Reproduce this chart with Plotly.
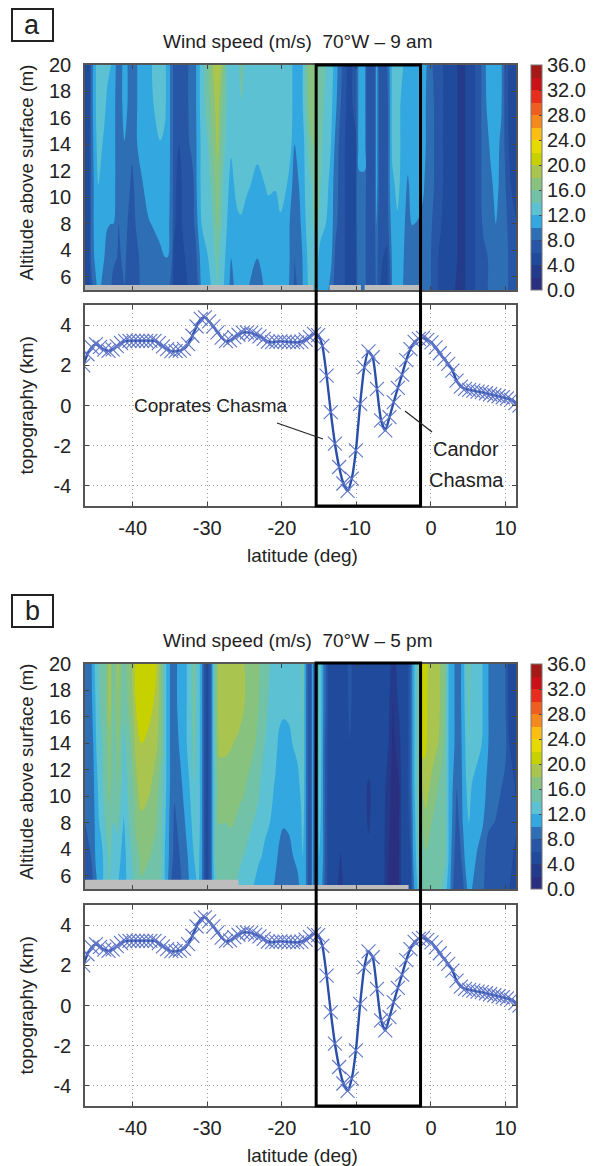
import plotly.graph_objects as go

W, H = 601, 1166

band_colors = ["#2a2f80", "#1f4493", "#214d9f", "#2b5aa9", "#2f75b9", "#34b3e8", "#63c4d0", "#72c2a3", "#88c27d",
               "#a8c552", "#c4d000", "#e3dc00", "#fdc80f", "#f7941d", "#f26a1f", "#e9411f", "#e30a17", "#a41a17"]
colorbar_ticks = [0, 4, 8, 12, 16, 20, 24, 28, 32, 36]

# altitude rows of the wind grids (position on the plotted axis)
altitude_rows = [20, 17, 14, 11, 8, 5.5, 3]
alt_tick_pos = [20, 18, 16, 14, 12, 10, 8, 6, 4]
alt_tick_text = ["20", "18", "16", "14", "12", "10", "8", "4", "6"]

lat_ticks = [-40, -30, -20, -10, 0, 10]
lat_tick_text = ["-40", "-30", "-20", "-10", "0", "10"]
topo_ticks = [-4, -2, 0, 2, 4]
topo_tick_text = ["-4", "-2", "0", "2", "4"]

wind_a_lat = [-46.5, -45.9, -45.5, -45.1, -44.6, -43.8, -43.4, -42.9, -42.6, -42.1, -41.9, -41.4, -41.1, -40.7, -40.1,
              -39.4, -38.7, -37.9, -37.2, -36.3, -35.7, -35.3, -34.7, -34.5, -33.8, -33.0, -32.1, -31.6, -31.3, -30.7,
              -29.9, -29.3, -28.6, -28.25, -27.6, -27.1, -26.8, -26.2, -25.8, -25.5, -24.7, -23.3, -22.3, -21.8, -20.9,
              -20.2, -19.3, -18.6, -18.3, -17.5, -17.2, -16.8, -16.2, -15.4, -14.8, -14.1, -13.4, -12.8, -12.1, -11.0,
              -10.1, -9.9, -9.6, -8.9, -8.6, -7.6, -7.3, -7.0, -6.4, -5.9, -5.4, -5.2, -4.5, -3.7, -3.1, -2.5, -1.6,
              -1.0, -0.4, 0.4, 1.0, 2.2, 4.2, 5.4, 6.4, 7.1, 7.6, 8.0, 8.7, 9.4, 10.0, 10.7, 11.5]
wind_a_cols = [
    [5,5,5,5,5,5,5],[5,5,5,5,5,5,5],[9,9,9,9,9,9,7],[11.5,11.5,11,10.5,10.5,10.2,9],[13,13,13,12,11,11,10.5],
    [13,12.5,11.5,11,11,10,9],[12.5,11.5,11,11,10.2,9,9],[12,11.5,11,11,10,9,8],[11,11,11,11,10,8.5,7],
    [9.5,9,9,9,9,8,7],[9,9,9,9,8,7,7],[10,10,9.5,9,9,8.5,7],[11,11,9.9,9,9,9,7.8],[10,10,9.5,9,8,7,7],
    [9,9,8.6,7.4,7,7,7],[10,10,10,9,8.5,7.5,7],[11,11,11,9.9,9,9,9],[11,11,11,11,9.8,9,9],[12.5,12,11.5,11,10.2,9,9],
    [13,13,11.9,11,11,9.4,9],[12.5,12.5,11.5,11,11,10,9],[11,11,11,10.8,10.5,10,8.5],[9,9,9,9,9,8,7],
    [7,7,7,7,6.5,5.5,5],[7,7,6,5,5,5,5],[7,7,7,7,7,6,5],[9,9,8.5,7,7,7,7],[9.5,9.5,9,8.8,8.5,7,7],
    [11,11,11,11,10,9,7.5],[13,13,12.5,12.5,12.2,11,11],[15.5,15,14,13,13,12,11],[18,17,16,15,14,13.5,12.5],
    [19.5,19,18.6,17,16.3,14.5,14],[19,17,16,15,14.5,13.5,13],[15,14.5,14,13,13,12,11.5],[13,13,13,12,11,11,10.5],
    [13,13,12.5,11,11,10.1,8],[13,13,13,12.5,11.2,11,11],[13.5,13,13,13,11.6,11,11],[15.5,13.8,13,13,11.7,11,11],
    [13,13,13,12.4,11,11,10.3],[13,13,12.6,11.4,11,10.1,8],[13,13,13,12,11,11,10.2],[13,13,13,12.4,11,11,11],
    [13,13,13,12.2,11,11,11],[13,13,13,13,11.6,11,11],[13,13,13,12,11,11,10.5],[12,12,11.8,10,9,9,9],
    [11,11,10,8,8,8,7],[11,11,11,10.8,9.9,9,9],[12,12,11,11,11,10.2,10],[15,14.5,13,12.5,12,11.5,11.5],
    [17.5,17,15.5,13.5,13,13,12.5],[17,17,16.5,15.5,15,13,12.5],[15,15,14.5,14,13,11,11],[14,13.5,13,13,12,11,11],
    [13,12.5,12,11,11,10.5,9],[11,10.5,9.5,9,8.5,7.5,7],[8.5,8,7,7,7,7,7],[5,5,5,5,5,5,5],
    [7,7,5.5,5.5,5.5,5.5,5.5],[9,9,9,9,9,8,8],[11,11,11,9.5,9,9,9],[11,11,11,9.5,9,9,9],[7,7,7,7,7,7,7],
    [7,7,7,7,7,7,7],[11,11,11,11,10.1,9,8.5],[8,8,8,8,7,7,6.5],[7,7,7,7,7,6,5],[8,7,7,7,7,5.5,5.5],
    [11,11,11,11,10,9,8],[12.5,12.5,12.5,11.5,11,10.5,10.2],[13,13,13,12.6,11.7,11,11],[12,11,11,11,10.5,10.1,9.9],
    [11,11,11,9.7,9,9,9],[11,11,11,11,10.1,9,9],[11,11,11,11,9.8,9,9],[11,11,11,10.2,9.5,9,9],[9.5,9,9,9,9,9,9],
    [7.5,8,8,8,7.5,7,7],[7,7,7,7,6.5,6,6],[5,5,5,5,5,5,4.5],[3.5,3.5,3.5,3.5,3.5,3.5,3.5],[5,5,5,5,5,5,5],
    [7,7,7,7,7,7,7],[9,9,9,9,8.5,7.5,7],[11,10.5,9.5,9.5,9,8,8],[11,11,10.5,9.5,9,9,8.5],[11,11,11,10.8,10,9,9],
    [10.5,10.4,9.5,9.3,9,9,9],[7,7,7.5,8,8.5,9,9],[5,5,5,6,7,7,7],[5,5,5,5,6,7,7],
]

wind_b_lat = [-46.5, -45.6, -45.3, -44.9, -44.3, -43.7, -43.1, -42.6, -42.0, -41.2, -40.5, -39.8, -39.6, -38.8, -37.8,
              -36.9, -36.2, -35.7, -35.3, -34.7, -34.4, -33.7, -33.1, -32.4, -31.8, -31.2, -30.8, -30.4, -30.1, -29.6,
              -29.3, -28.9, -28.4, -27.6, -26.7, -25.8, -25.0, -24.0, -23.1, -22.3, -21.6, -20.9, -20.4, -19.8, -19.1,
              -18.5, -17.9, -17.4, -17.2, -16.9, -16.4, -16.1, -15.9, -15.6, -15.2, -15.0, -14.6, -14.1, -13.7, -12.8,
              -12.1, -11.5, -11.3, -10.9, -10.4, -8.35, -6.5, -5.7, -5.1, -4.3, -3.9, -3.2, -2.75, -2.4, -2.1, -1.7,
              -1.4, -1.1, -0.7, -0.4, 0.0, 0.66, 1.2, 1.95, 2.2, 2.5, 3.15, 3.45, 3.9, 4.3, 4.6, 5.1, 5.5, 6.2, 6.9,
              7.3, 7.7, 8.65, 9.4, 10.0, 10.5, 11.5]
wind_b_cols = [
    [9,9,9,9,7.9,7,5],[9.5,9.5,9.5,9,8.5,8,6.5],[11,10.5,10,9.5,9,9,8],[13,12.5,12,11.5,11,10.5,9.5],
    [15,14.5,13.5,13,12.5,11,11],[15,15,15,15,14,13,13],[19,19,17.4,16.6,15.5,14.5,14],[15,15,14.5,14.5,14,13,13],
    [18.5,17.8,16.8,16,14.5,13,12],[15,14.5,13.5,13,11.8,11,11],[17,16.5,15,14.5,14,13.5,13],
    [19,18.5,17.8,16.5,15.5,14.5,14],[21,20,18.5,17.5,16.5,15,14.5],[21.5,21,20,19.2,17.5,16.8,15.5],
    [21,20.8,19.3,18.5,17,16.1,15],[20.5,19.5,18.6,17,16.2,15.5,14.8],[17,17,16.5,15,14.5,14.5,14],
    [13,13,13,13,12.5,12,12],[11,11,11,11,10.5,10.5,10],[9,9,9,9,9,8.5,7],[9,9,9,8.7,7.3,7,7],
    [11,11,10.2,9.5,9,8,7],[11,11,11,10.5,9.8,9,9],[13,13,13,12,11,10.5,10],[15,15,14.5,14,13,12,11.5],
    [13,13,13,13,13,12.5,12],[11,11,11,11,11,11,10.5],[7,7,7,7,7,7,7],[5,5,5,5,5,5,5],[7,7,7,7,7,7,7],
    [11,11,11,11,11,11,11],[16,16,15.5,14.5,14.5,14.5,13],[19,19,18.5,17,16.1,15,15],[19,19,18.5,17,16,15,15],
    [19,19,18.1,17,16.2,15,15],[19,19,17.6,16.7,15.6,14.5,13.5],[18,18,17,16.2,15.4,13.9,13],
    [17,17,16.5,15.3,14.1,13,12.2],[16.2,16,15.5,14.3,13.5,12.5,10.5],[15,14.8,14,13,12.6,11.5,10.8],
    [14,13.5,13,13,12,11,11],[13,13,13,11.8,11,10.8,9.5],[13,13,11.5,11,10.8,9.6,9],[13,12.5,11.2,11,10.2,9,9],
    [13,12.5,11.5,11,10.3,9.4,9],[13,13,12.1,11,10.8,10,9],[13,13,12.5,11.5,11,10.7,9.2],
    [14,13.5,13,12.5,11.8,11,10.8],[15,14.5,14.5,14,13,12,11],[11,11,11,11,11,11,11],[7,7,7,7,7,7,7],
    [7,7,7,7,7,7,7],[11,11,11,11,11,11,11],[7,7,7,7,7,7,7],[9,9,9,9,9,9,9],[15,15,15,14,13,12,11],
    [11,11,11,11,11,11,10],[8,8,7,7,7,7,7],[5,5,5,5,5,5,5],[5,5,5,5,5,5,4.5],[5,5,5,5,5,3.9,3],[5,5,5,5,5,5,5],
    [5.5,5,5,5,5,5,5],[7,7,5.9,5,5,5,5],[5,5,5,5,5,5,5],[5,5,5,3.9,3.9,4.2,4.2],[5,5,5,5,5,5,5],
    [4.5,4.5,4,3,2.5,2,1.8],[3.5,1.9,1.5,1,1,1,1],[4.5,4.5,3,1.9,1.9,1.9,1.9],[5,5,5,5,5,5,5],[5,5,5,5,5,5,5],
    [8,8,8,8,7,6,5.5],[11,11,11,11,10.5,10,9],[12.5,12.5,12.5,12.5,12,11.5,11],[15,15,15,15,14.5,14,12.5],
    [18,18,17.5,16,15,14.5,13],[21,21,21,18.5,16.5,15,14],[21.5,21,20.4,19,17.5,15.7,15],
    [19.5,19.5,19.5,18.5,17,15.5,15],[19,19,19,17.8,16.1,15,14.8],[19,19,18.4,16.7,15.2,15,14.8],
    [18,18,17.7,15.6,15,14.8,14.5],[16,15.5,14.8,14.5,14.5,14.2,13],[13,13,13,13,13,13,11.5],
    [11,11,11,11,11,11,10.5],[10,10,10,9.5,9,8,7],[9,9,9,8.2,7,7,7],[9.5,9.5,9.5,9,8.5,7.5,7],
    [11,11,10.5,10.5,10.2,9,7.5],[13,12.5,12,11.5,11,10.5,9],[15,14.5,14,13.5,12,11,11],[13,13,13,12,11,11,10],
    [13,13,12.7,11.3,11,9.8,9],[12,12,11.9,11,10.2,9,9],[11,11,11,10.3,9.5,8,7],[10,10,10,9,8.4,7,7],
    [9,9,9,9,7.9,7,7],[9,9,9,8.2,7,7,7],[8,8,8.5,7.5,7,7,7],[5,5,6,7,7,7,6],[5,5,5,5.5,6,5,5],
]

# grey terrain strips: start latitude, end latitude, top of strip
strip_a_start = [-46.4, -13.6, -8.9]
strip_a_end = [-15.8, -9.4, -1.4]
strip_a_top = [3.37, 3.37, 3.37]
strip_b_start = [-46.4, -25.8]
strip_b_end = [-25.8, -3.0]
strip_b_top = [3.7, 3.3]

topo_lat = [-46.63, -46.07, -45.5, -44.94, -44.38, -43.82, -43.25, -42.69, -42.13, -41.57, -41.0, -40.44, -39.88,
            -39.32, -38.75, -38.19, -37.63, -37.07, -36.5, -35.94, -35.38, -34.82, -34.25, -33.69, -33.13, -32.57,
            -32.0, -31.44, -30.88, -30.32, -29.75, -29.19, -28.63, -28.07, -27.5, -26.94, -26.38, -25.82, -25.25,
            -24.69, -24.13, -23.57, -23.0, -22.44, -21.88, -21.32, -20.75, -20.19, -19.63, -19.07, -18.5, -17.94,
            -17.38, -16.82, -16.25, -15.69, -15.13, -14.57, -14.0, -13.44, -12.88, -12.32, -11.75, -11.19, -10.63,
            -10.07, -9.5, -8.94, -8.38, -7.82, -7.25, -6.69, -6.13, -5.57, -5.0, -4.44, -3.88, -3.32, -2.75, -2.19,
            -1.63, -1.07, -0.5, 0.06, 0.62, 1.18, 1.75, 2.31, 2.87, 3.43, 4.0, 4.56, 5.12, 5.68, 6.25, 6.81, 7.37,
            7.93, 8.5, 9.06, 9.62, 10.18, 10.75, 11.31, 11.87]
topo_km = [2.0, 2.55, 2.9, 3.05, 2.92, 2.78, 2.72, 2.79, 2.95, 3.11, 3.2, 3.22, 3.22, 3.22, 3.22, 3.22, 3.22, 3.22,
           3.1, 2.94, 2.8, 2.7, 2.7, 2.73, 2.82, 3.05, 3.47, 3.93, 4.31, 4.38, 4.18, 3.94, 3.64, 3.38, 3.2, 3.24,
           3.4, 3.52, 3.63, 3.64, 3.61, 3.53, 3.44, 3.32, 3.18, 3.15, 3.17, 3.19, 3.18, 3.16, 3.15, 3.14, 3.18, 3.28,
           3.4, 3.56, 3.5, 2.97, 1.49, -0.33, -1.9, -3.06, -3.88, -4.25, -3.64, -2.23, 0.08, 1.9, 2.69, 2.4, 0.83,
           -0.74, -1.24, -0.58, 0.17, 0.88, 1.54, 2.26, 2.81, 3.17, 3.32, 3.36, 3.26, 3.14, 2.89, 2.6, 2.31, 2.07,
           1.74, 1.24, 0.94, 0.83, 0.78, 0.74, 0.69, 0.66, 0.61, 0.56, 0.51, 0.46, 0.41, 0.35, 0.28, 0.12, 0.0]

FONT = "Liberation Sans, Arial"
TXT = "#222222"
X_RANGE = [-46.4, 11.4]
GRID = "1px,3px"


def py(px):
    return 1 - px / H


colorscale = [[0, band_colors[0]]] + [[(k + 1) / 19, c] for k, c in enumerate(band_colors)] + [[1, band_colors[-1]]]

fig = go.Figure()


def add_panel(n, lat, cols, s0, s1, st, top_h, bot_h, top_t, bot_t, title, box_y, letter, lat_lab_y):
    xh, yh = f"x{n}", f"y{n}"
    xt, yt = f"x{n+1}", f"y{n+1}"
    z = [[col[r] for col in cols] for r in range(len(altitude_rows))]
    fig.add_trace(go.Contour(
        x=lat, y=altitude_rows, z=z, xaxis=xh, yaxis=yh, zmin=0, zmax=36, colorscale=colorscale,
        autocontour=False, contours=dict(start=0, end=36, size=2, coloring="fill", showlines=False),
        line=dict(width=0), hoverinfo="skip",
        colorbar=dict(x=531 / W, xanchor="left", y=py(top_h[0]), yanchor="top", len=(top_h[1] - top_h[0]) / H,
                      lenmode="fraction", thickness=11, thicknessmode="pixels", xpad=0, ypad=0,
                      outlinecolor="#777777", outlinewidth=1, ticks="inside", ticklen=3, tickcolor="#444444",
                      tickmode="array", tickvals=colorbar_ticks, ticktext=[f"{v:.1f}" for v in colorbar_ticks],
                      ticklabelposition="outside", tickprefix="\u00a0\u00a0",
                      tickfont=dict(family=FONT, size=20, color=TXT)),
    ))
    sx, sy = [], []
    for a, b, t in zip(s0, s1, st):
        sx += [a, b, b, a, a, None]
        sy += [3, 3, t, t, 3, None]
    fig.add_trace(go.Scatter(x=sx, y=sy, xaxis=xh, yaxis=yh, mode="lines", fill="toself", fillcolor="#bdbdbd",
                             line=dict(width=0), hoverinfo="skip", showlegend=False))
    fig.add_trace(go.Scatter(x=topo_lat, y=topo_km, xaxis=xt, yaxis=yt, mode="lines", cliponaxis=True,
                             line=dict(color="#2a4fa8", width=2.4, shape="spline", smoothing=0.6),
                             hoverinfo="skip", showlegend=False))
    fig.add_trace(go.Scatter(x=topo_lat, y=topo_km, xaxis=xt, yaxis=yt, mode="markers", cliponaxis=True,
                             marker=dict(symbol="x-thin", size=14, line=dict(color="#5f76c8", width=1.1)),
                             hoverinfo="skip", showlegend=False))
    ax_common = dict(showline=True, linecolor="#555555", linewidth=1.5, mirror="ticks", ticks="inside", ticklen=4,
                     tickcolor="#444444", zeroline=False)
    fig.update_layout({
        f"xaxis{n}": dict(domain=[85 / W, 516 / W], range=X_RANGE, anchor=yh, tickmode="array", tickvals=lat_ticks,
                          showticklabels=False, showgrid=False, **ax_common),
        f"yaxis{n}": dict(domain=[py(top_h[1]), py(top_h[0])], range=[3, 20], anchor=xh, tickmode="array",
                          tickvals=alt_tick_pos, ticktext=alt_tick_text, showgrid=False, ticklabelstandoff=8,
                          tickfont=dict(family=FONT, size=20, color=TXT), **ax_common),
        f"xaxis{n+1}": dict(domain=[85 / W, 516 / W], range=X_RANGE, anchor=yt, tickmode="array", tickvals=lat_ticks,
                            ticktext=lat_tick_text, showgrid=True, gridcolor="#a0a0a0", griddash=GRID, gridwidth=1,
                            ticklabelstandoff=3, tickfont=dict(family=FONT, size=20, color=TXT), **ax_common),
        f"yaxis{n+1}": dict(domain=[py(bot_h[1]), py(bot_h[0])], range=[-5, 5], anchor=xt, tickmode="array",
                            tickvals=topo_ticks, ticktext=topo_tick_text, showgrid=True, gridcolor="#a0a0a0",
                            griddash=GRID, gridwidth=1, ticklabelstandoff=8,
                            tickfont=dict(family=FONT, size=20, color=TXT), **ax_common),
    })
    fig.add_shape(type="rect", xref=xt, yref="paper", x0=-15.4, x1=-1.4, y0=py(bot_t), y1=py(top_t),
                  line=dict(color="#000000", width=3), layer="above")
    fig.add_shape(type="rect", xref="paper", yref="paper", x0=12 / W, x1=53 / W, y0=py(box_y[1]), y1=py(box_y[0]),
                  line=dict(color="#222222", width=2), layer="above")
    ann = lambda x, y, t, size=19, rot=0: fig.add_annotation(
        xref="paper", yref="paper", x=x / W, y=py(y), text=t, showarrow=False, textangle=rot,
        xanchor="center", yanchor="middle", font=dict(family=FONT, size=size, color=TXT))
    ann(297, top_h[0] - 24, title, 19)
    ann(32, (box_y[0] + box_y[1]) / 2, letter, 27)
    ann(26, (top_h[0] + top_h[1]) / 2 - 5, "Altitude above surface (m)", 18.5, -90)
    ann(26, (bot_h[0] + bot_h[1]) / 2, "topography (km)", 19, -90)
    ann(302, lat_lab_y, "latitude (deg)", 19)


add_panel(1, wind_a_lat, wind_a_cols, strip_a_start, strip_a_end, strip_a_top,
          (65, 290), (305, 506), 65, 506, "Wind speed (m/s)  70°W – 9 am", (9, 41), "a", 555)
add_panel(3, wind_b_lat, wind_b_cols, strip_b_start, strip_b_end, strip_b_top,
          (664, 889), (905, 1106), 663, 1106, "Wind speed (m/s)  70°W – 5 pm", (595, 627), "b", 1155)

for x, y, t, s in [(211, 405, "Coprates Chasma", 19), (466, 449, "Candor", 20), (466, 480, "Chasma", 20)]:
    fig.add_annotation(xref="paper", yref="paper", x=x / W, y=py(y), text=t, showarrow=False, xanchor="center",
                       yanchor="middle", font=dict(family=FONT, size=s, color=TXT))
for x0, y0, x1, y1 in [(277, 423, 323, 439), (405, 411, 432, 432)]:
    fig.add_shape(type="line", xref="paper", yref="paper", x0=x0 / W, y0=py(y0), x1=x1 / W, y1=py(y1),
                  line=dict(color="#222222", width=1.2), layer="above")

fig.update_layout(width=W, height=H, margin=dict(l=0, r=0, t=0, b=0, autoexpand=False), paper_bgcolor="white",
                  plot_bgcolor="white", showlegend=False, font=dict(family=FONT))
fig.write_html("out.html", post_script="document.body.style.margin='0';", config={"displayModeBar": False})
